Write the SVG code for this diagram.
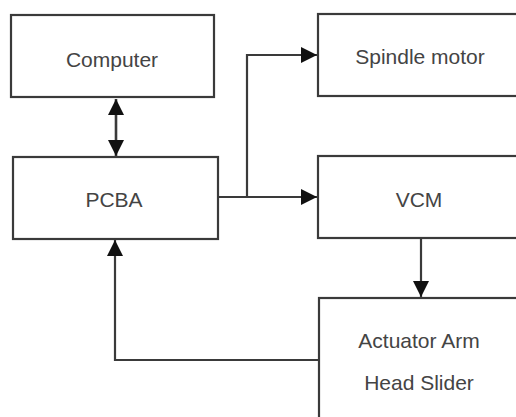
<svg xmlns="http://www.w3.org/2000/svg" width="516" height="417" viewBox="0 0 516 417">
  <style>
    .box { fill: #ffffff; stroke: #3a3a3a; stroke-width: 2.2; }
    .lbl { font-family: "Liberation Sans", Arial, sans-serif; font-size: 21px; fill: #444444; text-anchor: middle; }
    .wire { fill: none; stroke: #3a3a3a; stroke-width: 2.2; }
  </style>
  <defs>
    <marker id="head" viewBox="0 0 16 16" refX="16" refY="8" markerWidth="16" markerHeight="16" markerUnits="userSpaceOnUse" orient="auto-start-reverse">
      <path d="M0,0 L16,8 L0,16 Z" fill="#111111"/>
    </marker>
  </defs>
  <rect width="516" height="417" fill="#ffffff"/>

  <g id="connectors">
    <!-- Computer <-> PCBA -->
    <line class="wire" x1="116" y1="99" x2="116" y2="156" marker-start="url(#head)" marker-end="url(#head)" style="stroke-width:2.6"/>
    <!-- PCBA -> Spindle motor -->
    <polyline class="wire" points="218,197 247,197 247,55 317,55" marker-end="url(#head)"/>
    <!-- PCBA -> VCM -->
    <line class="wire" x1="247" y1="197" x2="317" y2="197" marker-end="url(#head)"/>
    <!-- VCM -> Actuator -->
    <line class="wire" x1="421" y1="238" x2="421" y2="297" marker-end="url(#head)"/>
    <!-- Actuator -> PCBA feedback -->
    <polyline class="wire" points="319,360 115,360 115,240" marker-end="url(#head)"/>
  </g>

  <g id="computer">
    <rect class="box" x="11" y="15" width="203" height="82"/>
    <text class="lbl" x="112" y="67">Computer</text>
  </g>
  <g id="pcba">
    <rect class="box" x="13" y="157" width="205" height="82"/>
    <text class="lbl" x="114" y="207">PCBA</text>
  </g>
  <g id="spindle">
    <rect class="box" x="318" y="14" width="210" height="82"/>
    <text class="lbl" x="420" y="64">Spindle motor</text>
  </g>
  <g id="vcm">
    <rect class="box" x="318" y="156" width="210" height="82"/>
    <text class="lbl" x="419" y="207">VCM</text>
  </g>
  <g id="actuator">
    <rect class="box" x="319" y="298" width="210" height="130"/>
    <text class="lbl" x="419" y="348">Actuator Arm</text>
    <text class="lbl" x="419" y="390">Head Slider</text>
  </g>
</svg>
